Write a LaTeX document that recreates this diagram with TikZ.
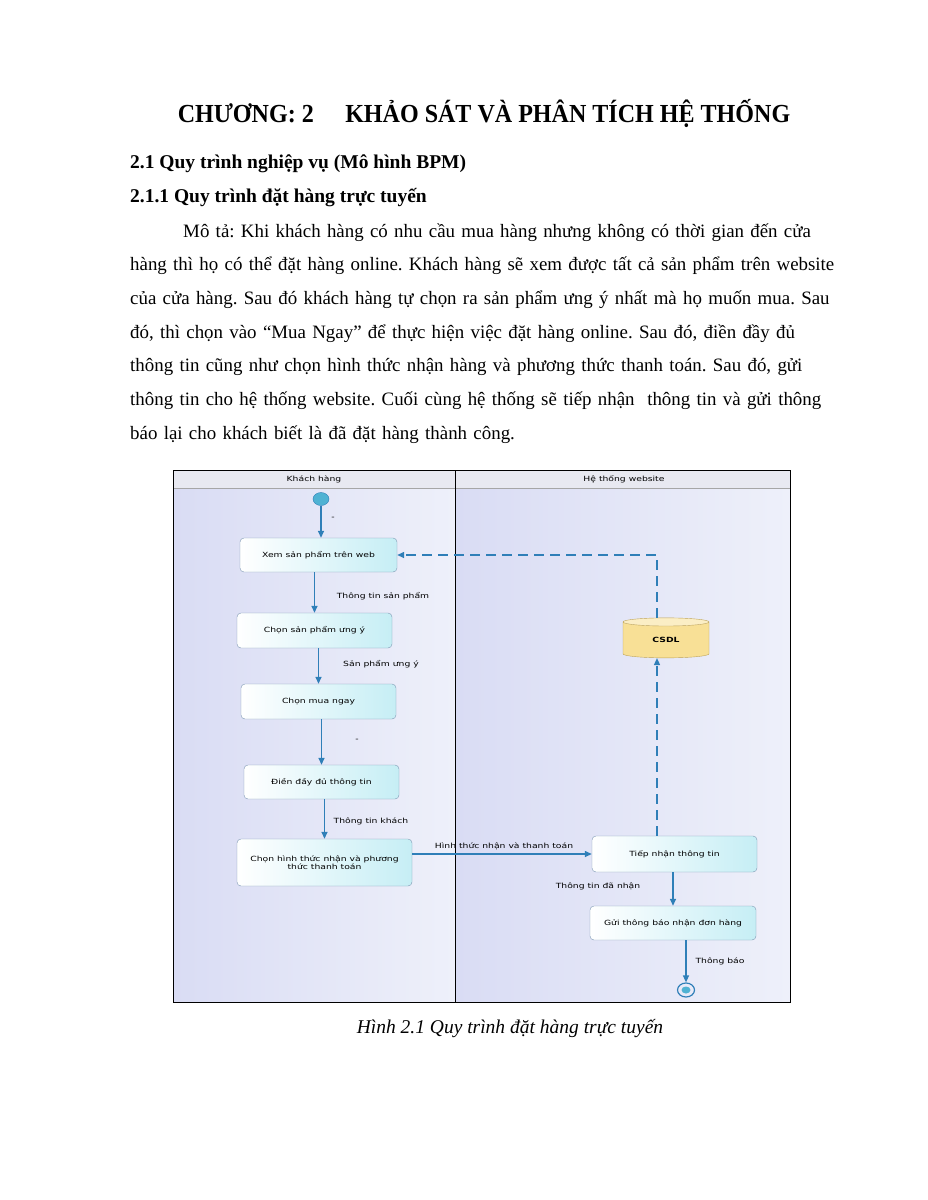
\documentclass[tikz,border=0pt]{standalone}
\usepackage{fontspec}
\usepackage{graphicx}
\setmainfont{Liberation Serif}
\newfontfamily\diagfont[FakeStretch=1.3]{DejaVu Sans}
\usetikzlibrary{positioning, shapes.geometric, arrows.meta}

\definecolor{flowblue}{HTML}{2F7FB8}
\definecolor{boxline}{HTML}{7E98B4}
\definecolor{boxcyan}{HTML}{C6EEF5}
\definecolor{lanedark}{HTML}{D9DCF4}
\definecolor{lanelight}{HTML}{EEF0FA}
\definecolor{headfill}{HTML}{E8E9F1}
\definecolor{dbfill}{HTML}{F8E096}
\definecolor{dbline}{HTML}{BFA458}
\definecolor{startfill}{HTML}{4FB2D3}

\begin{document}
\frenchspacing
\begin{tikzpicture}[
  x=1pt, y=-1pt,
  task/.style={draw=boxline, rounded corners=4pt, left color=white, right color=boxcyan,
    minimum width=155pt, minimum height=35pt, inner sep=2pt, align=center,
    font=\diagfont\fontsize{7.1}{8.5}\selectfont},
  lbl/.style={inner sep=1pt, font=\diagfont\fontsize{7.1}{8.5}\selectfont},
  flow/.style={draw=flowblue, line width=1.4pt, -{Triangle[width=6pt,length=7pt]}},
  dbflow/.style={flow, dash pattern=on 10pt off 6pt},
  store/.style={cylinder, shape border rotate=90, aspect=0.3, draw=dbline,
    cylinder uses custom fill, cylinder body fill=dbfill, cylinder end fill=dbfill!55!white,
    minimum width=86pt, minimum height=40pt, inner sep=0pt,
    font=\diagfont\fontsize{7.1}{8.5}\selectfont\bfseries},
  every node/.style={text=black}
]

% page
\useasboundingbox (0,0) rectangle (927,1200);
\fill[white] (0,0) rectangle (927,1200);

% text of the page
\node[anchor=base, inner sep=0pt, font=\bfseries\fontsize{26}{30}\selectfont] (title) at (484,122)
  {\scalebox{0.925}[1]{CHƯƠNG: 2\hspace{34pt}KHẢO SÁT VÀ PHÂN TÍCH HỆ THỐNG}};
\node[anchor=base west, inner sep=0pt, font=\bfseries\fontsize{19.5}{24}\selectfont] (sec) at (130,168)
  {2.1 Quy trình nghiệp vụ (Mô hình BPM)};
\node[anchor=base west, inner sep=0pt, font=\bfseries\fontsize{19.5}{24}\selectfont] (subsec) at (130,202)
  {2.1.1 Quy trình đặt hàng trực tuyến};
\node[anchor=base west, text width=720pt, inner sep=0pt, align=left,
  font=\fontsize{18.9}{33.7}\selectfont] (desc) at (130,237) {%
  \hspace*{53pt}Mô tả: Khi khách hàng có nhu cầu mua hàng nhưng không có thời gian đến cửa\\
  hàng thì họ có thể đặt hàng online. Khách hàng sẽ xem được tất cả sản phẩm trên website\\
  của cửa hàng. Sau đó khách hàng tự chọn ra sản phẩm ưng ý nhất mà họ muốn mua. Sau\\
  đó, thì chọn vào “Mua Ngay” để thực hiện việc đặt hàng online. Sau đó, điền đầy đủ\\
  thông tin cũng như chọn hình thức nhận hàng và phương thức thanh toán. Sau đó, gửi\\
  thông tin cho hệ thống website. Cuối cùng hệ thống sẽ tiếp nhận \ thông tin và gửi thông\\
  báo lại cho khách biết là đã đặt hàng thành công.};

% swimlanes
\shade[left color=lanedark, right color=lanelight] (173,488) rectangle (455,1002);
\shade[left color=lanedark, right color=lanelight] (455,488) rectangle (790,1002);
\fill[headfill] (173,470) rectangle (790,488);
\draw[gray!70] (173,488) -- (790,488);
\draw[line width=1pt] (455,470) -- (455,1002);
\draw[line width=1pt] (173,470) rectangle (790,1002);
\node[lbl] (laneA) at (314,479) {Khách hàng};
\node[lbl] (laneB) at (624,479) {Hệ thống website};

% steps
\node[ellipse, draw=flowblue, fill=startfill, minimum width=16pt, minimum height=13pt, inner sep=0pt] (start) at (321,499) {};
\node[task, minimum width=157pt, minimum height=34pt] (xem) at (318.5,555) {Xem sản phẩm trên web};
\node[task] (chonsp) at (314.5,630.5) {Chọn sản phẩm ưng ý};
\node[task] (chonmua) at (318.5,701.5) {Chọn mua ngay};
\node[task, minimum height=34pt] (dien) at (321.5,782) {Điền đầy đủ thông tin};
\node[task, minimum width=175pt, minimum height=47pt] (chonht) at (324.5,862.5)
  {Chọn hình thức nhận và phương\\thức thanh toán};
\node[task, minimum width=165pt, minimum height=36pt] (tiepnhan) at (674.5,854) {Tiếp nhận thông tin};
\node[task, minimum width=166pt, minimum height=34pt] (guitb) at (673,923) {Gửi thông báo nhận đơn hàng};
\node[store] (csdl) at (666,640) {CSDL};
\node[ellipse, draw=flowblue, line width=1.2pt, minimum width=17pt, minimum height=14pt, inner sep=0pt] (stop) at (686,990) {};
\fill[startfill] (stop) ellipse (4.5pt and 3.5pt);

\coordinate (dbx) at (657,0);

% connections
\draw[flow] (start) -- (start |- xem.north);
\draw[flow] (chonsp.north |- xem.south) -- (chonsp.north);
\draw[flow] (chonmua.north |- chonsp.south) -- (chonmua.north);
\draw[flow] (dien.north |- chonmua.south) -- (dien.north);
\draw[flow] (chonht.north |- dien.south) -- (chonht.north);
\draw[flow] (chonht.east |- tiepnhan) -- (tiepnhan.west);
\draw[flow] (guitb.north |- tiepnhan.south) -- (guitb.north);
\draw[flow] (stop |- guitb.south) -- (stop.north);
\draw[dbflow] (tiepnhan.north -| dbx) -- (csdl.south -| dbx);
\draw[dbflow] (csdl.north -| dbx) |- (xem.east);

% labels
\node[lbl] (l1) at (333,518) {-};
\node[lbl] (l2) at (383,596) {Thông tin sản phẩm};
\node[lbl] (l3) at (381,664) {Sản phẩm ưng ý};
\node[lbl] (l4) at (357,740) {-};
\node[lbl] (l5) at (371,821) {Thông tin khách};
\node[lbl] (l6) at (504,846) {Hình thức nhận và thanh toán};
\node[lbl] (l7) at (598,886) {Thông tin đã nhận};
\node[lbl] (l8) at (720,961) {Thông báo};

% caption
\node[anchor=base, inner sep=0pt, font=\itshape\fontsize{19.5}{23}\selectfont] (cap) at (510,1033)
  {Hình 2.1 Quy trình đặt hàng trực tuyến};

\end{tikzpicture}
\end{document}
